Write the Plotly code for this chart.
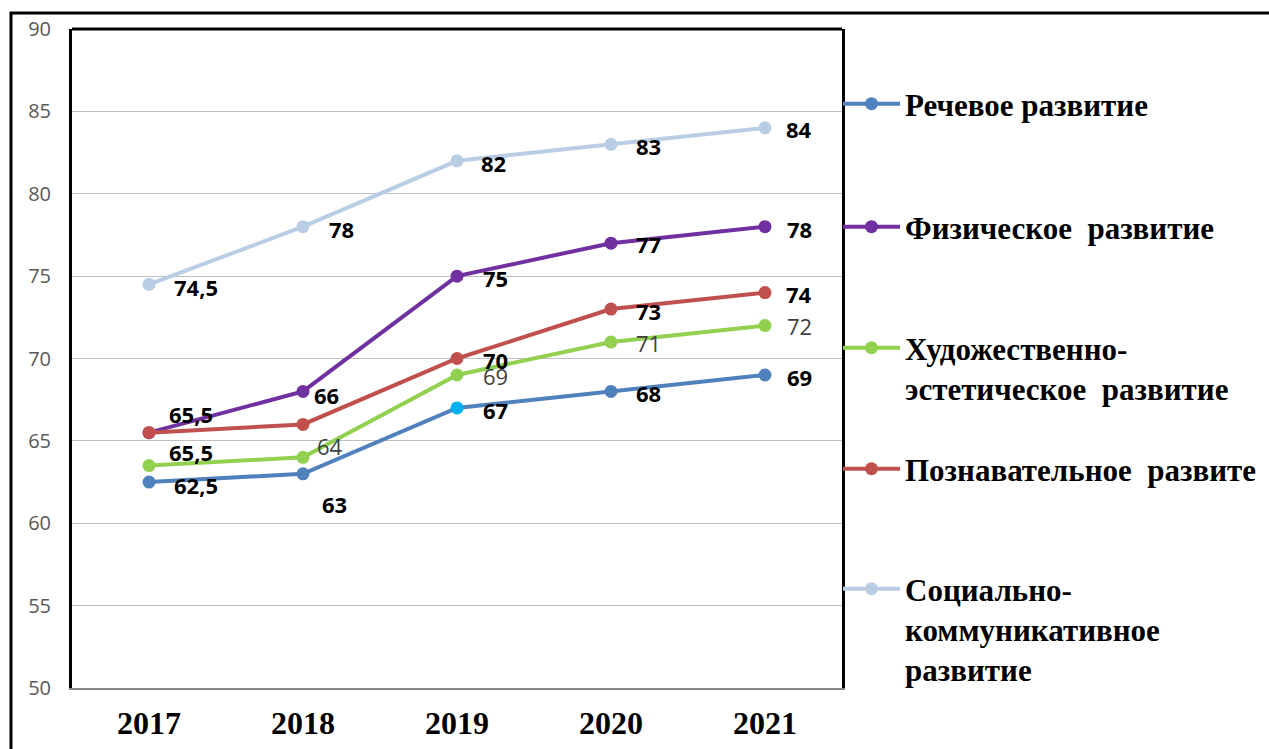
import plotly.graph_objects as go

years = [2017, 2018, 2019, 2020, 2021]

rech = [62.5, 63, 67, 68, 69]
fiz = [65.5, 68, 75, 77, 78]
hud = [63.5, 64, 69, 71, 72]
pozn = [65.5, 66, 70, 73, 74]
soc = [74.5, 78, 82, 83, 84]

rech_lbl = ["62,5", "63", "67", "68", "69"]
fiz_lbl = ["65,5", None, "75", "77", "78"]
hud_lbl = [None, "64", "69", "71", "72"]
pozn_lbl = ["65,5", "66", "70", "73", "74"]
soc_lbl = ["74,5", "78", "82", "83", "84"]

names = [
    "Речевое развитие",
    "Физическое  развитие",
    "Художественно-<br>эстетическое  развитие",
    "Познавательное  развите",
    "Социально-<br>коммуникативное<br>развитие",
]

W, H = 1269, 749
L, R, T, B = 72, 842, 29, 688


def py(px):
    return (B - px) / (B - T)


def pxx(px):
    return (px - L) / (R - L)


series = [
    dict(v=rech, lbl=rech_lbl, name=names[0], color="#4F81BD",
         mcolors=["#4F81BD", "#4F81BD", "#00B0F0", "#4F81BD", "#4F81BD"],
         offs=[(47, -3), (31, -30), (38, -2), (37, -2), (34, -2)],
         bold=True, tcolor="#000000", leg="legend", ly=105),
    dict(v=fiz, lbl=fiz_lbl, name=names[1], color="#7030A0", mcolors=None,
         offs=[(42, 19), (0, 0), (38, -2), (37, -1), (34, -2)],
         bold=True, tcolor="#000000", leg="legend2", ly=228),
    dict(v=hud, lbl=hud_lbl, name=names[2], color="#92D050", mcolors=None,
         offs=[(0, 0), (27, 11), (38, -1), (37, -1), (34, 0)],
         bold=False, tcolor="#404040", leg="legend3", ly=349),
    dict(v=pozn, lbl=pozn_lbl, name=names[3], color="#C0504D", mcolors=None,
         offs=[(42, -19), (23, 29), (38, -1), (37, -2), (34, -1)],
         bold=True, tcolor="#000000", leg="legend4", ly=470),
    dict(v=soc, lbl=soc_lbl, name=names[4], color="#B9CDE5", mcolors=None,
         offs=[(47, -3), (38, -2), (36, -2), (37, -2), (34, -1)],
         bold=True, tcolor="#000000", leg="legend5", ly=590),
]

fig = go.Figure()
legends = {}
for s in series:
    fig.add_trace(go.Scatter(
        x=years, y=s["v"],
        name="<b>" + s["name"].replace("<br>", "</b><br><b>") + "</b>",
        mode="lines+markers",
        line=dict(color=s["color"], width=4),
        marker=dict(color=s["mcolors"] if s["mcolors"] else s["color"], size=13),
        legend=s["leg"], showlegend=True,
    ))
    legends[s["leg"]] = dict(
        x=pxx(838), y=py(s["ly"] - 28), xanchor="left", yanchor="top",
        bgcolor="rgba(0,0,0,0)", borderwidth=0, valign="top",
        itemwidth=57,
        font=dict(family="Liberation Serif", size=31, color="#000000"),
    )
    for i, t in enumerate(s["lbl"]):
        if t is None:
            continue
        dx, dy = s["offs"][i]
        fig.add_annotation(
            x=years[i], y=s["v"][i], xref="x", yref="y",
            text=("<b>" + t + "</b>") if s["bold"] else t,
            showarrow=False, xshift=dx, yshift=dy,
            font=dict(family="Open Sans", size=22, color=s["tcolor"]),
        )

fig.update_layout(
    width=W, height=H,
    margin=dict(l=L, r=W - R, t=T, b=H - B, autoexpand=False),
    paper_bgcolor="white", plot_bgcolor="white",
    **legends,
    xaxis=dict(
        range=[2016.5, 2021.5], showgrid=False,
        tickmode="array", tickvals=years, ticktext=["<b>%d</b>" % y for y in years],
        showline=True, linecolor="#868686", linewidth=2,
        ticks="", ticklabelstandoff=6, automargin=False,
        tickfont=dict(family="Liberation Serif", size=32, color="#000000"),
        zeroline=False, fixedrange=True,
    ),
    yaxis=dict(
        range=[50, 90], dtick=5, showgrid=True, gridcolor="#BFBFBF", gridwidth=1,
        showline=True, linecolor="#000000", linewidth=3, mirror=True,
        ticks="", ticklabelstandoff=14, automargin=False,
        tickfont=dict(family="Open Sans", size=20, color="#595959"),
        zeroline=False, fixedrange=True,
    ),
    shapes=[
        dict(type="line", xref="paper", yref="paper", x0=0, x1=1, y0=1, y1=1,
             line=dict(color="#000000", width=3)),
        dict(type="rect", xref="paper", yref="paper",
             x0=pxx(11), x1=pxx(1290), y0=py(13), y1=py(770),
             line=dict(color="#000000", width=3), layer="below"),
    ],
)

fig.write_html("out.html", config={"displayModeBar": False},
               post_script="document.body.style.margin='0';document.body.style.padding='0';")
